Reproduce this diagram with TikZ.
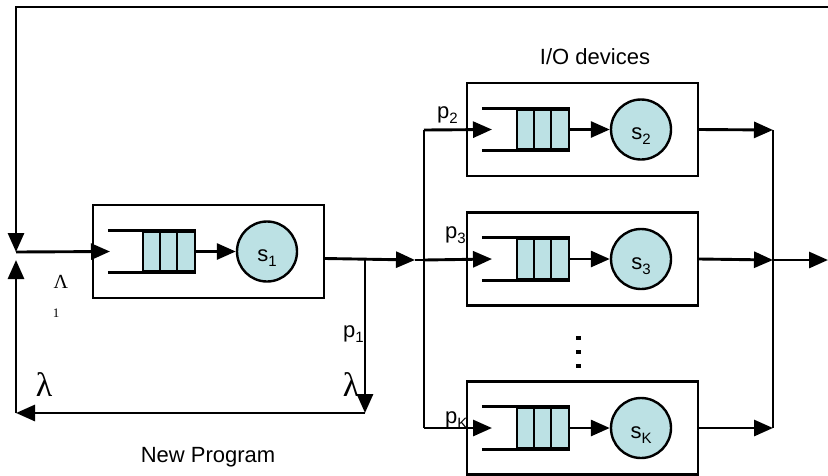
\documentclass[tikz,border=0pt]{standalone}
\usepackage{fontspec}
\setmainfont{Liberation Sans}
\newfontfamily\grk{Liberation Serif}
\usetikzlibrary{arrows.meta}
\definecolor{qfill}{RGB}{188,225,228}
\tikzset{
  wire/.style={line width=2.9pt},
  arr/.style={wire,-{Triangle[length=19pt,width=16pt]}},
  stbox/.style={draw,line width=2.2pt,minimum width=231pt,minimum height=93pt,inner sep=0pt},
  qrect/.style={draw,fill=qfill,line width=2.4pt,minimum width=52pt,minimum height=40pt,inner sep=0pt},
  srv/.style={circle,draw,fill=qfill,line width=2.4pt,minimum size=60pt,inner sep=0pt},
  lbl/.style={font=\fontsize{22}{22}\selectfont,inner sep=0pt},
  grklbl/.style={font=\grk\fontsize{#1}{#1}\selectfont,inner sep=0pt},
}
% lowered index for the sans labels
\newcommand\lowsub[1]{\raisebox{-0.45ex}{\fontsize{15}{15}\selectfont #1}}
% one service station: #1 name, #2 left x of frame, #3 centre y, #4 index
\newcommand\qstation[4]{%
  \node[stbox,anchor=west] (#1) at (#2,#3) {};
  \node[qrect] (#1q) at ([xshift=77pt]#1.west) {};
  \draw[wire] ([xshift=-34pt]#1q.north west) -- (#1q.north east);
  \draw[wire] ([xshift=-34pt]#1q.south west) -- (#1q.south east);
  \draw[line width=2.4pt] ([xshift=18pt]#1q.north west) -- ([xshift=18pt]#1q.south west);
  \draw[line width=2.4pt] ([xshift=35pt]#1q.north west) -- ([xshift=35pt]#1q.south west);
  \node[srv] (#1s) at ([xshift=175pt]#1.west) {};
  \node[lbl,anchor=base] at ([yshift=-10pt]#1s.center) {s\lowsub{#4}};
  \draw[arr] (#1q.east) -- (#1s.west);
}
\begin{document}
\begin{tikzpicture}[x=1pt,y=-1pt]
  \useasboundingbox (0,0) rectangle (828,475);

  % CPU station and I/O stations
  \qstation{b1}{92}{251.5}{1}
  \qstation{b2}{466}{129.5}{2}
  \qstation{b3}{466}{259}{3}
  \qstation{bK}{466}{428}{K}

  % junction points of the network
  \coordinate (tr) at (828,7);
  \coordinate (tl) at (16,7);
  \coordinate (jn) at (16,252);
  \coordinate (ju) at (16,260);
  \coordinate (bl) at (16,413);
  \coordinate (br) at (365,413);
  \coordinate (fork) at (365,259);
  \coordinate (o1) at ([yshift=-7pt]b1.east);
  \coordinate (mid) at (415,260);
  \coordinate (spl2) at (424,130);
  \coordinate (spl3) at (424,260);
  \coordinate (splK) at (424,428);
  \coordinate (mr2) at (773,130);
  \coordinate (mr3) at (773,260);
  \coordinate (mrK) at (773,428);
  \coordinate (out) at (828,260);

  % labels that sit under connectors
  \node[lbl,anchor=base west] at (343,337) {p\lowsub{1}};
  \node[lbl,anchor=base west] at (437,118) {p\lowsub{2}};
  \node[lbl,anchor=base west] at (445,238) {p\lowsub{3}};
  \node[lbl,anchor=base west] at (445,423) {p\lowsub{K}};

  % feedback loop and arrivals
  \draw[arr] (tr) -- (tl) -- (jn);
  \draw[arr] (jn) -- ([xshift=18pt]b1.west);
  \draw[arr] (o1) -- (mid);
  \draw[arr] (fork) -- (br);
  \draw[arr] (br) -- (bl);
  \draw[arr] (bl) -- (ju);

  % split to the I/O devices
  \draw[wire] (mid) -- (spl3);
  \draw[wire] (spl2) -- (splK);
  \draw[arr] (spl2) -- ([xshift=26pt]b2.west);
  \draw[arr] (spl3) -- ([xshift=26pt]b3.west);
  \draw[arr] (splK) -- ([xshift=26pt]bK.west);

  % merge of the I/O outputs
  \draw[arr] (b2.east) -- (mr2);
  \draw[arr] (b3.east) -- (mr3);
  \draw[arr] (bK.east) -- (mrK);
  \draw[wire] (mr2) -- (mrK);
  \draw[arr] (mr3) -- (out);

  % vertical ellipsis between the stations
  \foreach \yy in {338,352,366}
    \fill (576,\yy-2.3) rectangle (580.6,\yy+2.3);

  % texts
  \node[lbl] at (595,57) {I/O devices};
  \node[lbl] at (208,457) {New Program};
  \node[grklbl=20] at (61,282) {Λ};
  \node[grklbl=13] at (56,313) {1};
  \node[grklbl=34] at (44,385) {λ};
  \node[grklbl=34] at (351,385) {λ};
\end{tikzpicture}
\end{document}
